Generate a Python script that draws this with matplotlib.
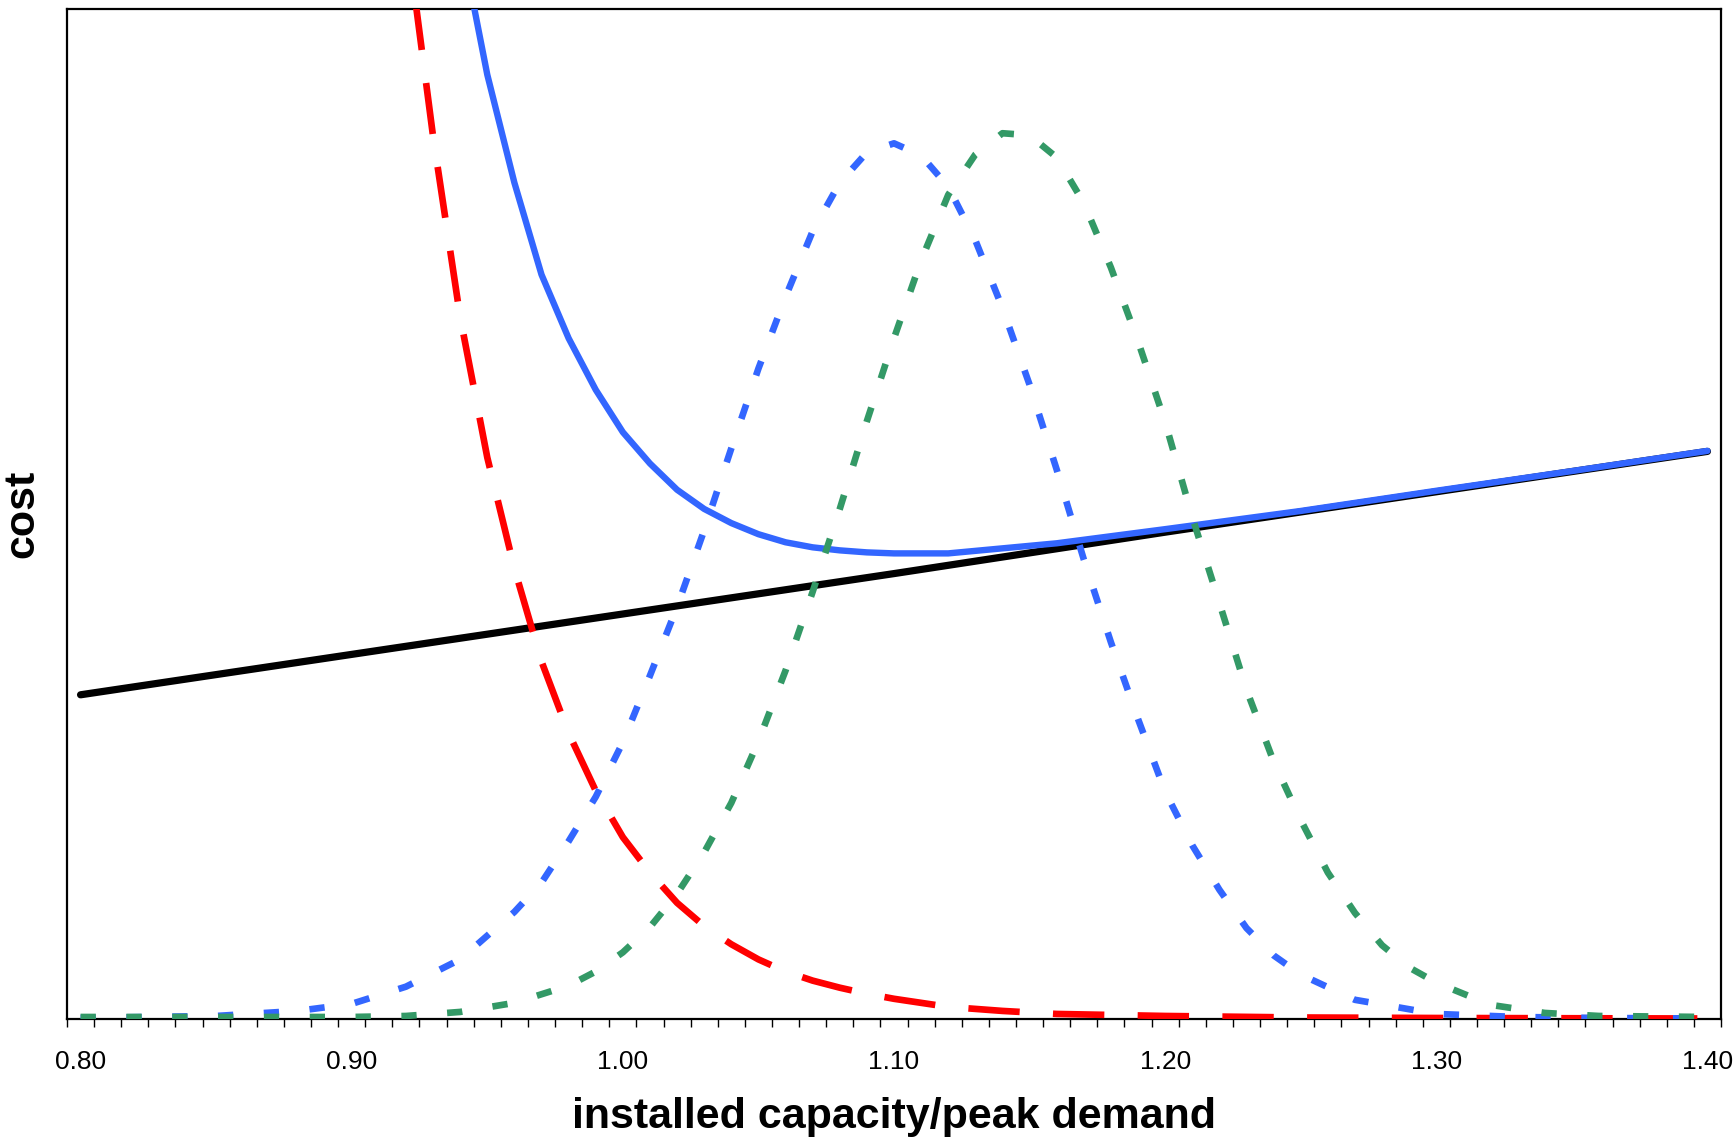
import matplotlib
matplotlib.use("Agg")
import matplotlib.pyplot as plt
import matplotlib.ticker as mtick
import numpy as np

# capacity cost (linear)
cap_fixed = [0.80, 0.90, 1.00, 1.10, 1.20, 1.30, 1.40]
cost_fixed = [32.1, 36.1, 40.1, 44.1, 48.2, 52.2, 56.2]

# expected shortage cost
cap_short = [0.92, 0.93, 0.94, 0.95, 0.96, 0.97, 0.98, 0.99, 1.00, 1.01, 1.02,
             1.03, 1.04, 1.05, 1.06, 1.07, 1.08, 1.09, 1.10, 1.12, 1.14, 1.16,
             1.18, 1.20, 1.25, 1.30, 1.40]
cost_short = [108.0, 87.4, 69.5, 55.6, 44.6, 35.4, 28.3, 22.6, 18.0, 14.5, 11.5,
              9.2, 7.4, 5.9, 4.7, 3.8, 3.1, 2.5, 2.0, 1.2, 0.8, 0.5,
              0.4, 0.3, 0.15, 0.1, 0.05]

# total cost
cap_total = [0.94, 0.95, 0.96, 0.97, 0.98, 0.99, 1.00, 1.01, 1.02, 1.03, 1.04,
             1.05, 1.06, 1.07, 1.08, 1.09, 1.10, 1.12, 1.14, 1.16, 1.18, 1.20,
             1.25, 1.30, 1.35, 1.40]
cost_total = [107.2, 93.5, 82.8, 73.7, 67.4, 62.3, 58.1, 55.0, 52.4, 50.5, 49.1,
              48.0, 47.2, 46.7, 46.4, 46.2, 46.1, 46.1, 46.6, 47.1, 47.8, 48.5,
              50.3, 52.3, 54.25, 56.25]

# reserve margin distributions
cap_lo = [0.80, 0.85, 0.88, 0.90, 0.92, 0.94, 0.96, 0.97, 0.98, 0.99, 1.00,
          1.01, 1.02, 1.03, 1.04, 1.05, 1.06, 1.07, 1.08, 1.09, 1.10, 1.11,
          1.12, 1.13, 1.14, 1.15, 1.16, 1.17, 1.18, 1.19, 1.20, 1.21, 1.22,
          1.23, 1.24, 1.25, 1.27, 1.30, 1.33, 1.36, 1.40]
dens_lo = [0.1, 0.3, 0.8, 1.5, 3.2, 5.9, 10.6, 13.5, 17.6, 22.0, 27.4,
           34.0, 40.8, 48.4, 56.5, 64.4, 71.5, 78.0, 82.8, 85.8, 86.7, 85.5,
           82.4, 77.1, 70.4, 62.8, 54.4, 45.5, 37.3, 29.7, 22.5, 17.2, 12.8,
           9.0, 6.3, 4.4, 1.9, 0.5, 0.2, 0.1, 0.05]

cap_hi = [0.80, 0.85, 0.90, 0.92, 0.94, 0.96, 0.98, 0.99, 1.00, 1.01, 1.02,
          1.03, 1.04, 1.05, 1.06, 1.07, 1.08, 1.09, 1.10, 1.11, 1.12, 1.13,
          1.14, 1.15, 1.16, 1.17, 1.18, 1.19, 1.20, 1.21, 1.22, 1.23, 1.24,
          1.25, 1.26, 1.27, 1.28, 1.29, 1.30, 1.32, 1.34, 1.36, 1.40]
dens_hi = [0.2, 0.2, 0.2, 0.3, 0.7, 1.6, 3.3, 4.7, 6.6, 9.1, 12.4,
           16.5, 21.4, 27.5, 34.5, 42.3, 50.5, 59.2, 67.4, 75.1, 81.6, 85.6,
           87.7, 87.5, 85.3, 80.8, 74.4, 67.1, 59.1, 49.7, 41.2, 32.6, 25.5,
           19.7, 14.5, 10.5, 7.3, 5.1, 3.6, 1.4, 0.6, 0.3, 0.2]

plt.rcParams['font.family'] = ['Liberation Sans', 'DejaVu Sans']
plt.rcParams['lines.scale_dashes'] = False

fig = plt.figure(figsize=(17.36, 11.40), dpi=100)
ax = fig.add_axes([67 / 1736, 1 - 1019 / 1140, (1721 - 67) / 1736, (1019 - 9) / 1140])

ax.plot(cap_fixed, cost_fixed, color='black', lw=5.2, solid_capstyle='round', zorder=2)
ax.plot(cap_total, cost_total, color='#3366FF', lw=4.6, solid_capstyle='round', zorder=3)
ax.plot(cap_short, cost_short, color='#FF0000', lw=4.8, dashes=[37, 24], zorder=4)
ax.plot(cap_lo, dens_lo, color='#3366FF', lw=4.8, dashes=[11, 22], zorder=5)
ax.plot(cap_hi, dens_hi, color='#339966', lw=4.8, dashes=[11, 22], zorder=6)

ax.set_xlim(0.795, 1.405)
ax.set_ylim(0, 100)
ax.xaxis.set_major_locator(mtick.FixedLocator([0.8, 0.9, 1.0, 1.1, 1.2, 1.3, 1.4]))
ax.xaxis.set_major_formatter(mtick.FormatStrFormatter('%.2f'))
ax.xaxis.set_minor_locator(mtick.FixedLocator(0.795 + 0.01 * np.arange(62)))
ax.tick_params(axis='x', which='major', length=0, pad=22, labelsize=19)
ax.tick_params(axis='x', which='minor', length=6, width=1.0, direction='out')
ax.set_yticks([])
for s in ax.spines.values():
    s.set_linewidth(1.6)

ax.set_xlabel('installed capacity/peak demand', fontsize=31, fontweight='bold', labelpad=17)
ax.set_ylabel('cost', fontsize=31, fontweight='bold', labelpad=18)

fig.savefig('out.png', dpi=100)
